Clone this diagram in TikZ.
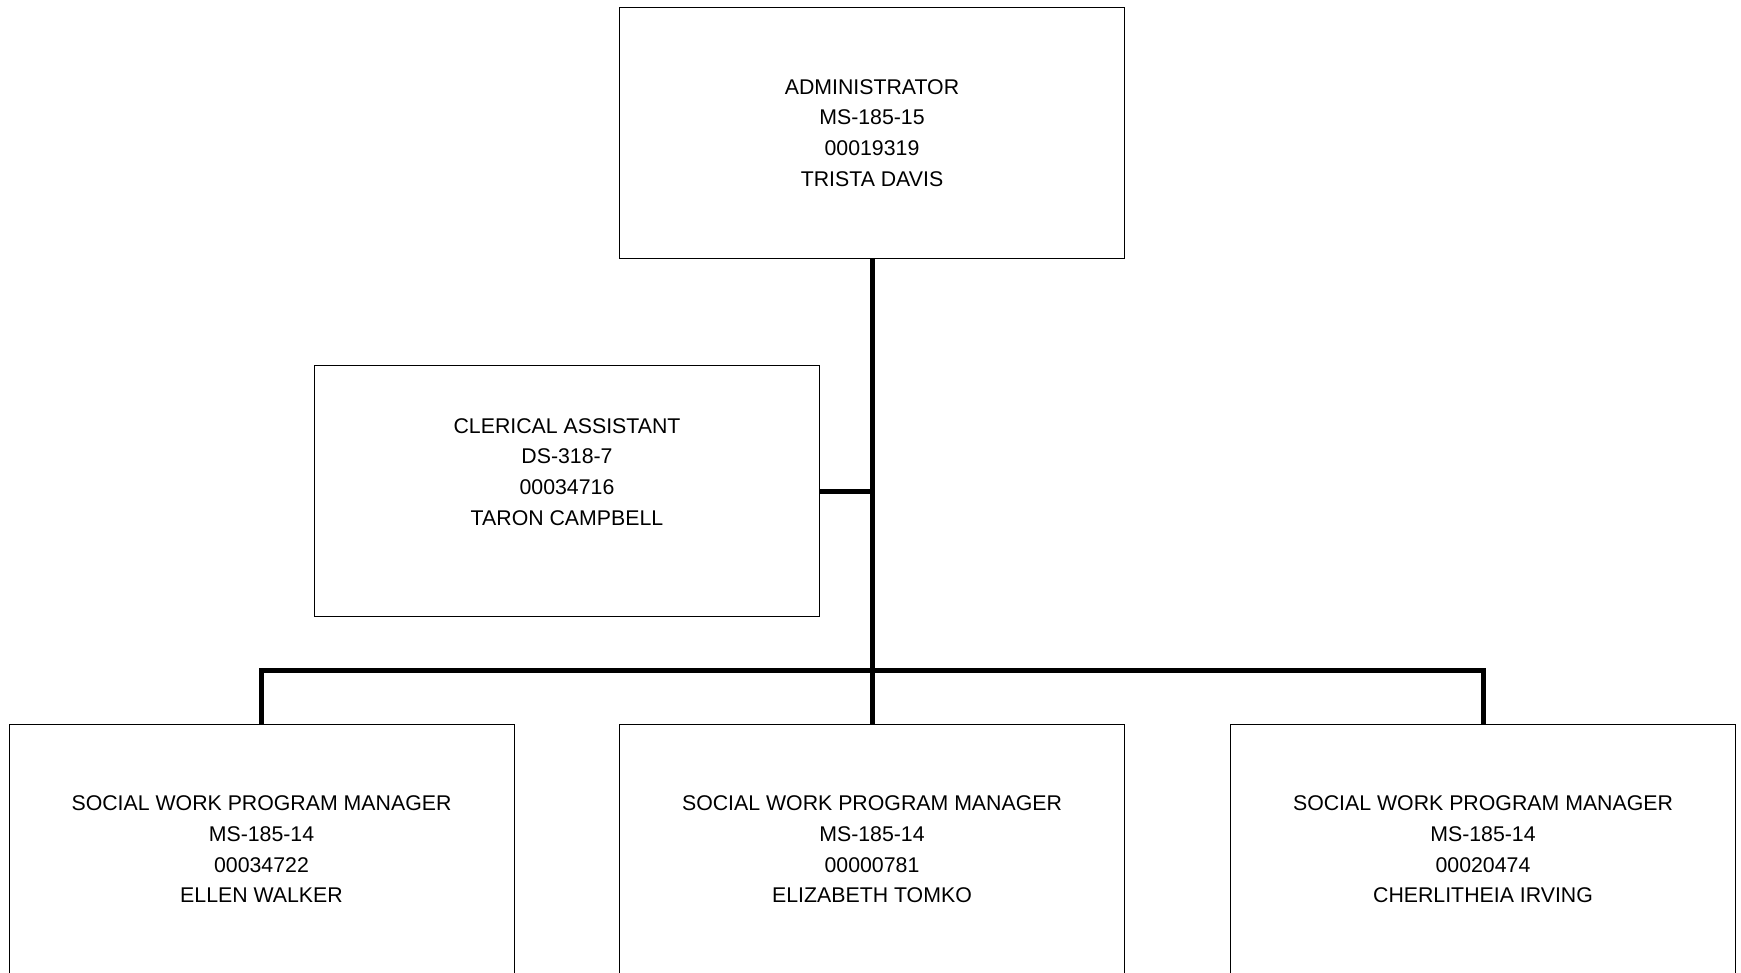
\documentclass[tikz,border=0pt]{standalone}
\usepackage{fontspec}
\setmainfont{Liberation Sans}
\begin{document}
\begin{tikzpicture}[x=1pt,y=-1pt,
  posbox/.style={draw=black, line width=1pt, minimum width=505pt, minimum height=251pt,
    inner sep=0pt, align=center, font=\fontsize{21.3}{30.7}\selectfont},
  postext/.style={inner sep=0pt, align=center, font=\fontsize{21.3}{30.7}\selectfont},
  conn/.style={line width=5pt, line join=miter}]
  \useasboundingbox (0,0) rectangle (1741,973);
  \clip (0,0) rectangle (1741,973);

  % positions
  \node[posbox] (admin) at (872,133) {ADMINISTRATOR\\MS-185-15\\00019319\\TRISTA DAVIS};
  \node[posbox] (clerk) at (567,491) {};
  \node[postext] (clerktext) at (567,472) {CLERICAL ASSISTANT\\DS-318-7\\00034716\\TARON CAMPBELL};
  \node[posbox] (mgrA) at (261.5,849.5) {SOCIAL WORK PROGRAM MANAGER\\MS-185-14\\00034722\\ELLEN WALKER};
  \node[posbox] (mgrB) at (872,849.5) {SOCIAL WORK PROGRAM MANAGER\\MS-185-14\\00000781\\ELIZABETH TOMKO};
  \node[posbox] (mgrC) at (1483,849.5) {SOCIAL WORK PROGRAM MANAGER\\MS-185-14\\00020474\\CHERLITHEIA IRVING};

  % reporting lines
  \coordinate (bus) at (872,670.5);
  \draw[conn] (admin.south) -- (mgrB.north);
  \draw[conn] (clerk.east) -- (clerk.east -| admin.south);
  \draw[conn] (mgrA.north) |- (bus) -| (mgrC.north);
\end{tikzpicture}
\end{document}
